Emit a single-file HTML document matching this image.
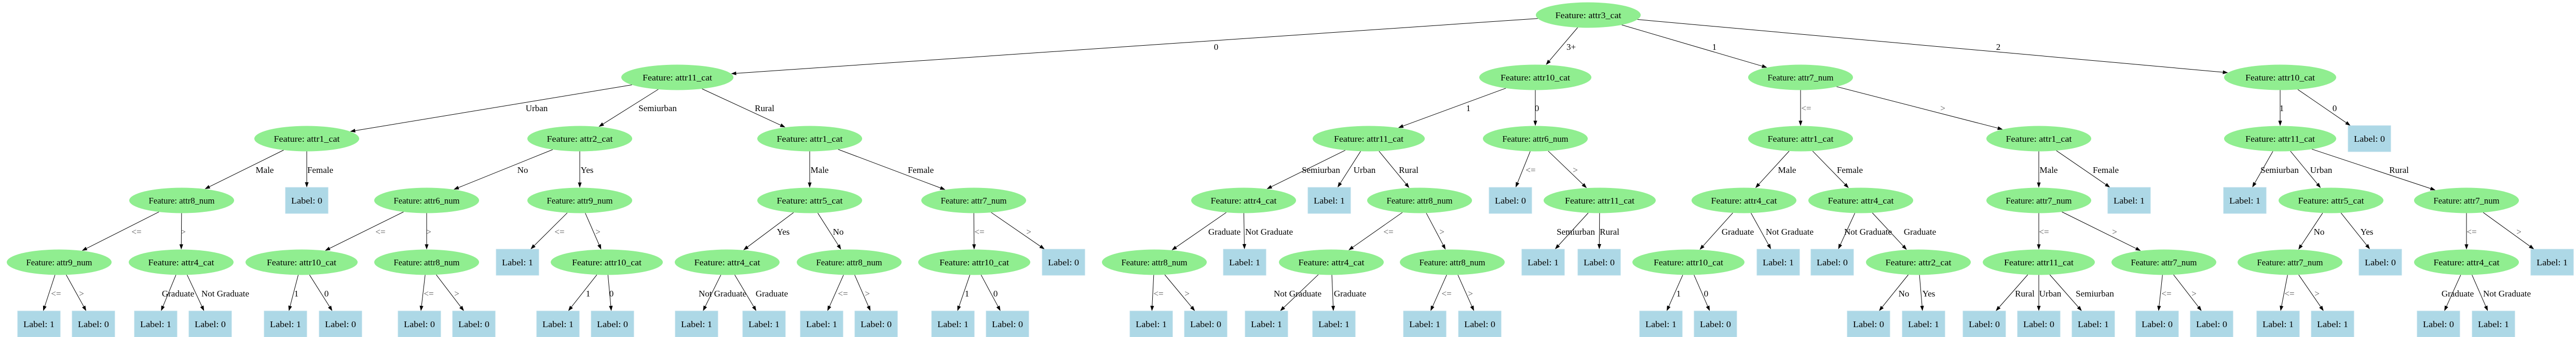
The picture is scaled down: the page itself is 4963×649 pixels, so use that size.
<!DOCTYPE html>
<html><head><meta charset="utf-8">
<style>
html,body{margin:0;padding:0;background:#fff;}
svg{display:block;}
text{font-family:"Liberation Serif",serif;fill:#000;}
</style></head>
<body>
<svg id="g" width="4963" height="649" viewBox="0 0 4963 649" xmlns="http://www.w3.org/2000/svg"></svg>
<script>
function N(t,x,c){return {t:'Feature: '+t,x:x,c:c,leaf:false};}
function L(v,x){return {t:'Label: '+v,x:x,c:[],leaf:true};}
var tree=N('attr3_cat',3060,[
 ['0',2343,N('attr11_cat',1305,[
   ['Urban',1034,N('attr1_cat',591,[
     ['Male',510,N('attr8_num',350,[
       ['<=',263,N('attr9_num',114,[['<=',108,L(1,75)],['>',157,L(0,180)]])],
       ['>',353,N('attr4_cat',349,[['Graduate',343,L(1,300)],['Not Graduate',434,L(0,405)]])]
     ])],
     ['Female',617,L(0,591)]
   ])],
   ['Semiurban',1267,N('attr2_cat',1117,[
     ['No',1007,N('attr6_num',822,[
       ['<=',733,N('attr10_cat',581,[['1',571,L(1,550)],['0',629,L(0,656)]])],
       ['>',826,N('attr8_num',822,[['<=',826,L(0,808)],['>',880,L(0,913)]])]
     ])],
     ['Yes',1131,N('attr9_num',1117,[
       ['<=',1078,L(1,997)],
       ['>',1152,N('attr10_cat',1169,[['1',1133,L(1,1075)],['0',1178,L(0,1180)]])]
     ])]
   ])],
   ['Rural',1473,N('attr1_cat',1560,[
     ['Male',1579,N('attr5_cat',1560,[
       ['Yes',1509,N('attr4_cat',1401,[['Not Graduate',1392,L(1,1342)],['Graduate',1487,L(1,1472)]])],
       ['No',1615,N('attr8_num',1636,[['<=',1624,L(1,1583)],['>',1671,L(0,1688)]])]
     ])],
     ['Female',1774,N('attr7_num',1876,[
       ['<=',1887,N('attr10_cat',1877,[['1',1863,L(1,1836)],['0',1918,L(0,1941)]])],
       ['>',1982,L(0,2049)]
     ])]
   ])]
 ])],
 ['3+',3027,N('attr10_cat',2958,[
   ['1',2829,N('attr11_cat',2637,[
     ['Semiurban',2545,N('attr4_cat',2396,[
       ['Graduate',2359,N('attr8_num',2224,[['<=',2232,L(1,2218)],['>',2287,L(0,2323)]])],
       ['Not Graduate',2445,L(1,2398)]
     ])],
     ['Urban',2629,L(1,2561)],
     ['Rural',2714,N('attr8_num',2735,[
       ['<=',2675,N('attr4_cat',2565,[['Not Graduate',2500,L(1,2440)],['Graduate',2601,L(1,2570)]])],
       ['>',2778,N('attr8_num',2798,[['<=',2787,L(1,2745)],['>',2833,L(0,2851)]])]
     ])]
   ])],
   ['0',2961,N('attr6_num',2958,[
     ['<=',2949,L(0,2910)],
     ['>',3035,N('attr11_cat',3082,[['Semiurban',3036,L(1,2973)],['Rural',3101,L(0,3081)]])]
   ])]
 ])],
 ['1',3303,N('attr7_num',3469,[
   ['<=',3480,N('attr1_cat',3469,[
     ['Male',3443,N('attr4_cat',3360,[
       ['Graduate',3348,N('attr10_cat',3253,[['1',3234,L(1,3200)],['0',3287,L(0,3305)]])],
       ['Not Graduate',3448,L(1,3426)]
     ])],
     ['Female',3564,N('attr4_cat',3585,[
       ['Not Graduate',3599,L(0,3530)],
       ['Graduate',3699,N('attr2_cat',3696,[['No',3668,L(0,3600)],['Yes',3716,L(1,3706)]])]
     ])]
   ])],
   ['>',3743,N('attr1_cat',3928,[
     ['Male',3947,N('attr7_num',3928,[
       ['<=',3938,N('attr11_cat',3928,[['Rural',3901,L(0,3823)],['Urban',3950,L(0,3928)],['Semiurban',4036,L(1,4033)]])],
       ['>',4074,N('attr7_num',4169,[['<=',4174,L(0,4156)],['>',4227,L(0,4261)]])]
     ])],
     ['Female',4057,L(1,4102)]
   ])]
 ])],
 ['2',3850,N('attr10_cat',4393,[
   ['1',4396,N('attr11_cat',4393,[
     ['Semiurban',4392,L(1,4325)],
     ['Urban',4472,N('attr5_cat',4491,[
       ['No',4468,N('attr7_num',4412,[['<=',4411,L(1,4389)],['>',4464,L(1,4494)]])],
       ['Yes',4560,L(0,4586)]
     ])],
     ['Rural',4622,N('attr7_num',4752,[
       ['<=',4762,N('attr4_cat',4752,[['Graduate',4735,L(0,4698)],['Not Graduate',4830,L(1,4804)]])],
       ['>',4853,L(1,4917)]
     ])]
   ])],
   ['0',4498,L(0,4565)]
 ])]
]);
var LY=[29,149,267,386,505,624], EY=[90,208,327,446,565];
var shapes='',edges='',texts='';
function rx(n){return n.leaf?41:(n.t.length>=19?108:101);}
function boundary(n,y,dx,dy){ // point on shape boundary from center in direction (dx,dy)
  if(n.leaf){var hw=41,hh=25;var s=Math.min(dx?hw/Math.abs(dx):1e9,dy?hh/Math.abs(dy):1e9);return [n.x+dx*s,y+dy*s];}
  var a=rx(n),b=24.5;var s=1/Math.sqrt(dx*dx/(a*a)+dy*dy/(b*b));return [n.x+dx*s,y+dy*s];
}
function walk(n,d){
  var y=LY[d];
  if(n.leaf){
    shapes+='<rect x="'+(n.x-41)+'" y="'+(y-25)+'" width="82" height="50" fill="#ADD8E6" stroke="#B8DDEA" stroke-width="1"/>';
    texts+='<text x="'+n.x+'" y="'+(y+6)+'" font-size="17" text-anchor="middle" textLength="60" lengthAdjust="spacingAndGlyphs">'+n.t+'</text>';
  } else {
    shapes+='<ellipse cx="'+n.x+'" cy="'+y+'" rx="'+rx(n)+'" ry="24.5" fill="#90EE90"/>';
    var tl=Math.round(n.t.length*7.05);
    texts+='<text x="'+n.x+'" y="'+(y+6)+'" font-size="17" text-anchor="middle" textLength="'+tl+'" lengthAdjust="spacingAndGlyphs">'+n.t+'</text>';
  }
  n.c.forEach(function(e){
    var ch=e[2],cy=LY[d+1];
    var dx=ch.x-n.x,dy=cy-y,len=Math.sqrt(dx*dx+dy*dy);dx/=len;dy/=len;
    var p=boundary(n,y,dx,dy),q=boundary(ch,cy,-dx,-dy);
    var al=10,aw=3.6;
    var bx=q[0]-dx*al,by=q[1]-dy*al;
    edges+='<line x1="'+p[0].toFixed(1)+'" y1="'+p[1].toFixed(1)+'" x2="'+bx.toFixed(1)+'" y2="'+by.toFixed(1)+'" stroke="#000" stroke-width="1"/>';
    edges+='<polygon points="'+q[0].toFixed(1)+','+q[1].toFixed(1)+' '+(bx-dy*aw).toFixed(1)+','+(by+dx*aw).toFixed(1)+' '+(bx+dy*aw).toFixed(1)+','+(by-dx*aw).toFixed(1)+'" fill="#000"/>';
    var lbl=e[0].replace(/&/g,'&amp;').replace(/</g,'&lt;').replace(/>/g,'&gt;');
    var col=(e[0]=='<='||e[0]=='>')?'#555':'#000';
    texts+='<text x="'+e[1]+'" y="'+(EY[d]+6)+'" font-size="17" text-anchor="middle" style="fill:'+col+'">'+lbl+'</text>';
    walk(ch,d+1);
  });
}
walk(tree,0);
document.getElementById('g').innerHTML='<rect width="4963" height="649" fill="#fff"/>'+edges+shapes+texts;
</script>
</body></html>
